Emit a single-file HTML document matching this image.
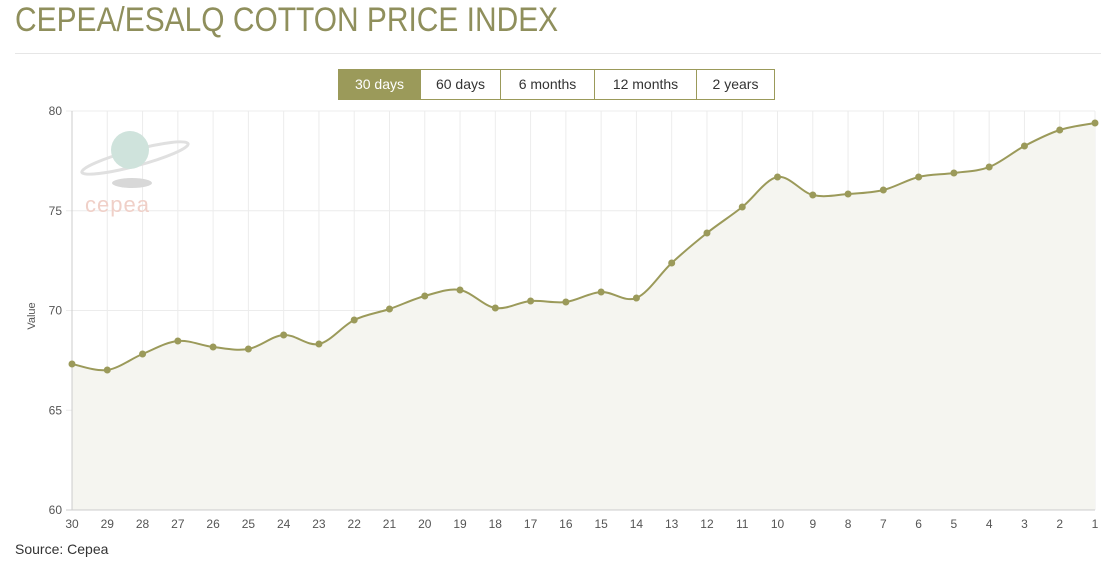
<!DOCTYPE html>
<html><head><meta charset="utf-8"><style>
body{margin:0;width:1104px;height:565px;background:#fff;font-family:"Liberation Sans",sans-serif;position:relative;overflow:hidden}
.t{position:absolute;left:15px;top:1px;font-size:34px;color:#8f8f5c;transform:scaleX(0.88);transform-origin:0 0;white-space:nowrap}
.hr{position:absolute;left:15px;right:3px;top:53px;border-top:1px solid #e6e6e6}
.btns{position:absolute;top:69px;left:338px;height:30px;display:flex}
.btns div{border:1px solid #9b9a5a;border-left:none;height:29px;line-height:29px;text-align:center;font-size:14px;color:#333}
.btns div:first-child{border-left:1px solid #9b9a5a;background:#9b9a5a;color:#fff}
.src{position:absolute;left:15px;top:541px;font-size:14px;color:#333}
</style></head><body>
<div class="t">CEPEA/ESALQ COTTON PRICE INDEX</div>
<div class="hr"></div>
<div class="btns"><div style="width:81px">30 days</div><div style="width:79px">60 days</div><div style="width:93px">6 months</div><div style="width:101px">12 months</div><div style="width:77px">2 years</div></div>
<svg id="s" width="1104" height="565" style="position:absolute;left:0;top:0" font-family="Liberation Sans, sans-serif"></svg>
<div class="src">Source: Cepea</div>
<script>
var ys=[364,370,354,341,347,349,335,344,320,309,296,290,308,301,302,292,298,263,233,207,177,195,194,190,177,173,167,146,130,123];
var x0=72,x1=1095,dx=(x1-x0)/29,h='';
for(var i=0;i<30;i++){var x=x0+i*dx;h+='<line x1="'+x+'" y1="111" x2="'+x+'" y2="510" stroke="#ececec"/>';
h+='<text x="'+x+'" y="528" font-size="12" fill="#555" text-anchor="middle">'+(30-i)+'</text>';}
for(var v=60;v<=80;v+=5){var y=510-(v-60)*19.95;h+='<line x1="66" y1="'+y+'" x2="1095" y2="'+y+'" stroke="#ececec"/><text x="62" y="'+(y+4)+'" font-size="12" fill="#555" text-anchor="end">'+v+'</text>';}
var P=ys.map(function(y,i){return [x0+i*dx,y]});
var d='M'+P[0][0]+','+P[0][1];
for(var i=0;i<29;i++){var p0=P[Math.max(i-1,0)],p1=P[i],p2=P[i+1],p3=P[Math.min(i+2,29)];
d+=' C'+(p1[0]+(p2[0]-p0[0])/6)+','+(p1[1]+(p2[1]-p0[1])/6)+' '+(p2[0]-(p3[0]-p1[0])/6)+','+(p2[1]-(p3[1]-p1[1])/6)+' '+p2[0]+','+p2[1];}
h+='<path d="'+d+' L1095,510 L72,510Z" fill="#f5f5f0"/>';
h+='<line x1="72" y1="111" x2="72" y2="510" stroke="#ccc"/><line x1="66" y1="510" x2="1095" y2="510" stroke="#ccc"/>';
h+='<path d="'+d+'" fill="none" stroke="#9b9a5a" stroke-width="2"/>';
P.forEach(function(p){h+='<circle cx="'+p[0]+'" cy="'+p[1]+'" r="3.5" fill="#9b9a5a"/>'});
h+='<text transform="translate(35,316) rotate(-90)" font-size="11" fill="#555" text-anchor="middle">Value</text>';
h+='<ellipse cx="132" cy="183" rx="20" ry="5" fill="#d8d8d8"/><ellipse cx="135" cy="158" rx="55" ry="8" transform="rotate(-15 135 158)" fill="none" stroke="#e0e0e0" stroke-width="3"/><circle cx="130" cy="150" r="19" fill="#cfe3dc"/>';
h+='<text x="85" y="212" font-size="22" fill="#f0d0c8" letter-spacing="1">cepea</text>';
document.getElementById('s').innerHTML=h;
</script>
</body></html>
